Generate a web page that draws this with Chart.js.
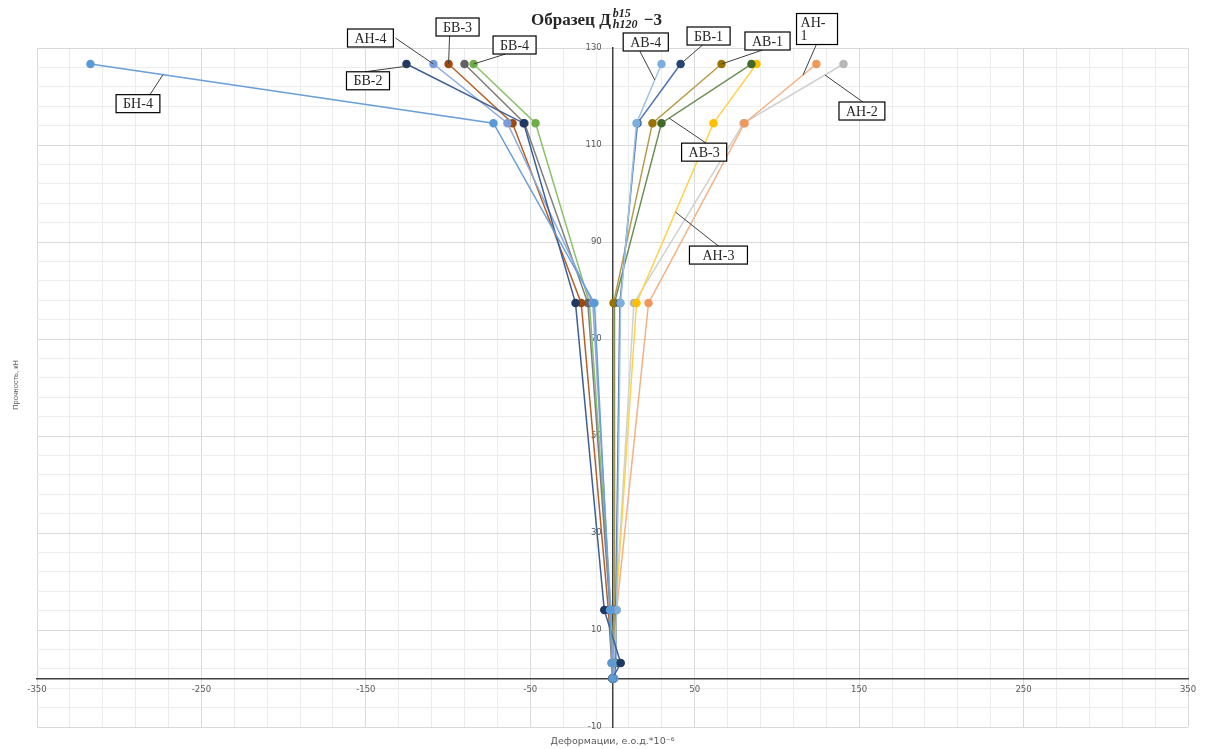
<!DOCTYPE html>
<html>
<head>
<meta charset="utf-8">
<script src="https://cdn.jsdelivr.net/npm/chart.js@4.4.0/dist/chart.umd.min.js"></script>
<style>
    html, body { margin: 0; padding: 0; background: #fff; }
    #wrap { width: 1214px; height: 749px; }
</style>
</head>
<body>
<div id="wrap"><canvas id="myChart"></canvas></div>
<script>
// нагрузка, кН (ось Y)
let loads = [0, 3.2, 14.1, 77.4, 114.5, 126.7]

// деформации, е.о.д.*10^-6 (ось X), по одной точке на каждую нагрузку
let bn4 = [0, -0.5, -1.5, -11, -72.4, -317.5]
let bv2 = [0, 5, -5, -22.5, -54, -125.3]
let an4 = [1, 0, -1, -12, -63.9, -108.9]
let bv3 = [0, -0.5, -2.5, -19, -60.8, -99.7]
let row13 = [0, 0, -1.5, -15, -53.5, -90]
let bv4 = [0, 0.5, -1, -14, -46.8, -84.5]
let av4 = [0.5, 1, 2.5, 4.9, 14.6, 29.8]
let bv1 = [1, 2, 2, 4.5, 15.2, 41.4]
let av1 = [0, 0.5, 1, 0.6, 24.3, 66.3]
let av3 = [0, 0.5, 1, 1.2, 29.8, 84.5]
let an3 = [0, 1, 2, 14.6, 61.4, 87.6]
let an1 = [0, 1, 2.5, 21.9, 80.3, 124]
let an2 = [0, 1, 2, 13, 79.7, 140.5]

let seriesNames = ['БН-4', 'БВ-2', 'АН-4', 'БВ-3', 'Ряд 13', 'БВ-4', 'АВ-4', 'БВ-1', 'АВ-1', 'АВ-3', 'АН-3', 'АН-1', 'АН-2']
let seriesValues = [bn4, bv2, an4, bv3, row13, bv4, av4, bv1, av1, av3, an3, an1, an2]

// оси
let xMin = -350, xMax = 350, xStep = 20, xLabelStep = 100
let yMin = -10, yMax = 130, yStep = 4, yLabelStep = 20

let lineColors = ['#6a9fd8', '#3b5f9a', '#8faadc', '#b5612a', '#7f7f7f', '#8cc168', '#9dc3e6', '#4a6fb0', '#b89b4a', '#6a8f55', '#ffd24d', '#f4b183', '#d0d0d0']
let pointColors = ['#5b9bd5', '#1f3864', '#7a9cda', '#9e480e', '#636363', '#70ad47', '#7cafdd', '#264478', '#997300', '#43682b', '#ffc000', '#f1975a', '#b7b7b7']

// подписи рядов (выноски)
let callouts = [
    { name: 'БН-4', pt: 5, t: 0.18, dx: -25, dy: 29, ax: 12, ay: -9 },
    { name: 'БВ-2', pt: 5, t: 0.03, dx: -42, dy: 15, ax: -3, ay: -9 },
    { name: 'АН-4', pt: 5, t: 0, dx: -63, dy: -26, ax: 25, ay: 0 },
    { name: 'БВ-3', pt: 5, t: 0, dx: 9, dy: -37, ax: -8, ay: 9 },
    { name: 'БВ-4', pt: 5, t: 0, dx: 41, dy: -19, ax: -9, ay: 9 },
    { name: 'АВ-4', pt: 5, t: 0.27, dx: -9, dy: -38, ax: -6, ay: 9 },
    { name: 'БВ-1', pt: 5, t: 0, dx: 28, dy: -28, ax: -6, ay: 9 },
    { name: 'АВ-1', pt: 5, t: 0, dx: 46, dy: -23, ax: -5, ay: 9 },
    { name: 'АН-1', pt: 5, t: 0.186, dx: 14, dy: -46, ax: 0, ay: 14, lines: ['АН-', '1'], w: 41 },
    { name: 'АН-2', pt: 5, t: 0.186, dx: 37, dy: 36, ax: 1, ay: -9 },
    { name: 'АВ-3', pt: 5, t: 0.915, dx: 35, dy: 34, ax: 2, ay: -9 },
    { name: 'АН-3', pt: 4, t: 0.494, dx: 43, dy: 43, ax: 0, ay: -9, w: 58 }
]

let datasets = seriesValues.map((vals, i) => ({
    label: seriesNames[i],
    data: loads.map((y, j) => ({ x: vals[j], y: y })),
    showLine: true,
    borderColor: lineColors[i],
    backgroundColor: pointColors[i],
    pointBackgroundColor: pointColors[i],
    pointBorderColor: pointColors[i],
    borderWidth: 1.5,
    pointRadius: 3.5,
    pointHoverRadius: 3.5
}))

function isMajor(v, min, step) {
    return Math.round(v - min) % step === 0
}

const textPlugin = {
    id: 'textPlugin',
    afterDraw(chart) {
        const ctx = chart.ctx
        const area = chart.chartArea
        ctx.save()

        // выноски
        const boxes = []
        callouts.forEach(c => {
            const idx = seriesNames.indexOf(c.name)
            const meta = chart.getDatasetMeta(idx)
            const p0 = meta.data[c.pt]
            const p1 = meta.data[c.pt - 1]
            const px = p0.x + c.t * (p1.x - p0.x)
            const py = p0.y + c.t * (p1.y - p0.y)
            const cx = px + c.dx
            const cy = py + c.dy
            ctx.strokeStyle = '#404040'
            ctx.lineWidth = 1
            ctx.beginPath()
            ctx.moveTo(px, py)
            ctx.lineTo(cx + c.ax, cy + c.ay)
            ctx.stroke()
            boxes.push({ c: c, cx: cx, cy: cy })
        })
        ctx.font = '14px "Liberation Serif"'
        ctx.textAlign = 'center'
        ctx.textBaseline = 'middle'
        boxes.forEach(b => {
            const lines = b.c.lines || [b.c.name]
            let w = b.c.w || (ctx.measureText(lines[0]).width + 14)
            let h = lines.length * 13 + 5
            ctx.fillStyle = '#ffffff'
            ctx.fillRect(b.cx - w / 2, b.cy - h / 2, w, h)
            ctx.strokeStyle = '#000000'
            ctx.lineWidth = 1.2
            ctx.strokeRect(b.cx - w / 2, b.cy - h / 2, w, h)
            ctx.fillStyle = '#262626'
            lines.forEach((s, k) => {
                const ty = b.cy - (lines.length - 1) * 6.5 + k * 13
                if (lines.length > 1) {
                    ctx.textAlign = 'left'
                    ctx.fillText(s, b.cx - w / 2 + 4, ty + 1)
                    ctx.textAlign = 'center'
                } else {
                    ctx.fillText(s, b.cx, ty + 1)
                }
            })
        })

        // заголовок: Образец Д^{b15}_{h120} −3
        ctx.fillStyle = '#262626'
        ctx.textAlign = 'left'
        ctx.textBaseline = 'alphabetic'
        const mainFont = 'bold 17px "Liberation Serif"'
        const smallFont = 'bold italic 12px "Liberation Serif"'
        ctx.font = mainFont
        const w1 = ctx.measureText('Образец Д').width
        const w3 = ctx.measureText(' −3').width
        ctx.font = smallFont
        const w2 = Math.max(ctx.measureText('b15').width, ctx.measureText('h120').width) + 4
        const total = w1 + w2 + w3
        let x = (area.left + area.right) / 2 - 16 - total / 2
        ctx.font = mainFont
        ctx.fillText('Образец Д', x, 25)
        ctx.font = smallFont
        ctx.fillText('b15', x + w1 + 2, 17)
        ctx.fillText('h120', x + w1 + 2, 28)
        ctx.font = mainFont
        ctx.fillText(' −3', x + w1 + w2, 25)

        // подписи осей
        ctx.fillStyle = '#595959'
        ctx.font = '9.5px "DejaVu Sans"'
        ctx.textAlign = 'center'
        ctx.fillText('Деформации, е.о.д.*10⁻⁶', (area.left + area.right) / 2, 744)
        ctx.translate(16, 385)
        ctx.rotate(-Math.PI / 2)
        ctx.font = '7.5px "Liberation Sans"'
        ctx.textBaseline = 'middle'
        ctx.fillText('Прочность, кН', 0, 0)
        ctx.restore()
    }
}

let myChart = document.getElementById('myChart').getContext('2d')

let chart = new Chart(myChart, {
    type: 'scatter',
    data: { datasets: datasets },
    options: {
        responsive: true,
        maintainAspectRatio: false,
        animation: false,
        layout: { padding: { left: 37, right: 26, top: 48, bottom: 22 } },
        plugins: {
            legend: { display: false },
            tooltip: { enabled: false }
        },
        scales: {
            x: {
                type: 'linear',
                position: { y: 0 },
                min: xMin,
                max: xMax,
                grid: {
                    color: ctx => isMajor(ctx.tick.value, xMin, xLabelStep) ? '#d9d9d9' : '#ececec',
                    lineWidth: 1,
                    drawTicks: false
                },
                border: { display: true, color: '#404040', width: 1.5 },
                ticks: {
                    stepSize: xStep,
                    autoSkip: false,
                    maxRotation: 0,
                    padding: 6,
                    color: '#595959',
                    font: { family: 'DejaVu Sans', size: 8.5 },
                    callback: v => isMajor(v, xMin, xLabelStep) ? String(Math.round(v)) : ''
                }
            },
            y: {
                type: 'linear',
                position: { x: 0 },
                min: yMin,
                max: yMax,
                grid: {
                    color: ctx => isMajor(ctx.tick.value, yMin, yLabelStep) ? '#d9d9d9' : '#ececec',
                    lineWidth: 1,
                    drawTicks: false
                },
                border: { display: true, color: '#404040', width: 1.5 },
                ticks: {
                    stepSize: yStep,
                    autoSkip: false,
                    color: '#595959',
                    font: { family: 'DejaVu Sans', size: 8.5 },
                    // отступ от оси пробелами: у центрированной оси padding не работает
                    callback: v => isMajor(v, yMin, yLabelStep) ? String(Math.round(v)) + '    ' : ''
                }
            }
        }
    },
    plugins: [textPlugin]
})
</script>
</body>
</html>
